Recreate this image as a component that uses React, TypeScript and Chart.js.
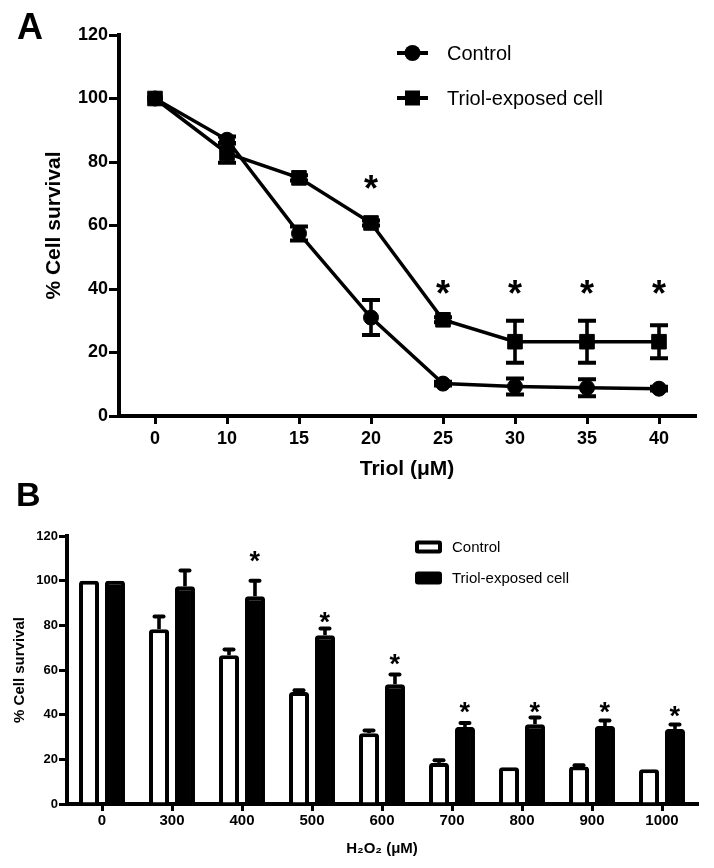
import React, { useEffect, useRef } from 'react';
import { Chart, registerables } from 'chart.js';

Chart.register(...registerables);

const FONT = "'Liberation Sans', Arial, Helvetica, sans-serif";
Chart.defaults.font.family = FONT;
Chart.defaults.color = '#000';

// ---------- Panel A data ----------
const triolDoses = ['0', '10', '15', '20', '25', '30', '35', '40'];
const controlA = [100, 87, 57.5, 31, 10.2, 9.3, 8.9, 8.6];
const controlAErr = [0, 1, 2.2, 5.5, 0.6, 2.5, 2.7, 0.6];
const triolA = [100, 82.8, 75, 60.8, 30.3, 23.4, 23.4, 23.4];
const triolAErr = [0, 3, 0.8, 0.8, 0.8, 6.6, 6.6, 5.2];
const starA: (number | null)[] = [null, null, null, 73.7, 40.6, 40.6, 40.6, 40.6];

// ---------- Panel B data ----------
const h2o2Doses = ['0', '300', '400', '500', '600', '700', '800', '900', '1000'];
const controlB = [100, 78.3, 66.6, 50.1, 31.7, 18.4, 16.4, 16.8, 15.6];
const controlBErr = [0, 5.6, 2.6, 0.8, 1.2, 1.2, 0, 0.6, 0];
const triolB = [100, 97.5, 93, 75.6, 53.6, 34.5, 35.7, 34.9, 33.6];
const triolBErr = [0, 7, 7, 3, 4.4, 1.8, 3, 2.5, 2];
const starB: (number | null)[] = [null, null, 111, 83.7, 64.5, 43, 43, 43, 41.6];

const yTicksStep = 20;
const yMin = 0;
const yMax = 120;

function errorBarPlugin(errs: number[][], both: boolean, cap: number, lw: number, roundCap: boolean) {
  return {
    id: 'errorBars',
    afterDatasetsDraw(chart: any) {
      const ctx = chart.ctx;
      const y = chart.scales.y;
      ctx.save();
      ctx.strokeStyle = '#000';
      chart.data.datasets.forEach((ds: any, i: number) => {
        const meta = chart.getDatasetMeta(i);
        const e = errs[i];
        meta.data.forEach((el: any, j: number) => {
          const err = e[j];
          if (!err) return;
          const v = ds.data[j] as number;
          const x = el.x;
          const top = y.getPixelForValue(v + err);
          const bot = y.getPixelForValue(both ? v - err : v);
          ctx.lineWidth = lw * 0.9;
          ctx.lineCap = 'butt';
          ctx.beginPath();
          ctx.moveTo(x, top);
          ctx.lineTo(x, bot);
          ctx.stroke();
          ctx.lineWidth = lw;
          ctx.lineCap = roundCap ? 'round' : 'butt';
          const half = roundCap ? cap / 2 - lw / 2 : cap / 2;
          ctx.beginPath();
          ctx.moveTo(x - half, top);
          ctx.lineTo(x + half, top);
          if (both) {
            ctx.moveTo(x - half, bot);
            ctx.lineTo(x + half, bot);
          }
          ctx.stroke();
        });
      });
      ctx.restore();
    },
  };
}

function starPlugin(stars: (number | null)[], dsIndex: number, size: number) {
  return {
    id: 'stars',
    afterDatasetsDraw(chart: any) {
      const ctx = chart.ctx;
      ctx.save();
      ctx.font = `bold ${size}px ${FONT}`;
      ctx.fillStyle = '#000';
      ctx.textAlign = 'left';
      ctx.textBaseline = 'alphabetic';
      const m = ctx.measureText('*');
      const meta = chart.getDatasetMeta(dsIndex);
      stars.forEach((s, j) => {
        if (s == null) return;
        const cx = meta.data[j].x;
        const cy = chart.scales.y.getPixelForValue(s);
        const x = cx - (m.actualBoundingBoxRight - m.actualBoundingBoxLeft) / 2;
        const yy = cy + (m.actualBoundingBoxAscent - m.actualBoundingBoxDescent) / 2;
        ctx.fillText('*', x, yy);
      });
      ctx.restore();
    },
  };
}

function letterPlugin(text: string, x: number, baseline: number, size: number) {
  return {
    id: 'panelLetter',
    afterDraw(chart: any) {
      const ctx = chart.ctx;
      ctx.save();
      ctx.font = `bold ${size}px ${FONT}`;
      ctx.fillStyle = '#000';
      ctx.textAlign = 'left';
      ctx.textBaseline = 'alphabetic';
      ctx.fillText(text, x, baseline);
      ctx.restore();
    },
  };
}

function lineLegendPlugin(x0: number, y0: number, gap: number, textX: number, size: number) {
  return {
    id: 'lineLegend',
    afterDraw(chart: any) {
      const ctx = chart.ctx;
      ctx.save();
      chart.data.datasets.forEach((ds: any, i: number) => {
        const y = y0 + i * gap;
        ctx.strokeStyle = '#000';
        ctx.lineWidth = 4;
        ctx.beginPath();
        ctx.moveTo(x0, y);
        ctx.lineTo(x0 + 31, y);
        ctx.stroke();
        ctx.fillStyle = '#000';
        const cx = x0 + 15.5;
        if (ds.pointStyle === 'rect') {
          ctx.fillRect(cx - 7.5, y - 7.5, 15, 15);
        } else {
          ctx.beginPath();
          ctx.arc(cx, y, 8, 0, Math.PI * 2);
          ctx.fill();
        }
        ctx.font = `${size}px ${FONT}`;
        ctx.textAlign = 'left';
        ctx.textBaseline = 'middle';
        ctx.fillText(ds.label, textX, y + 1);
      });
      ctx.restore();
    },
  };
}

function boxLegendPlugin(x0: number, y0: number, gap: number, textX: number, size: number) {
  return {
    id: 'boxLegend',
    afterDraw(chart: any) {
      const ctx = chart.ctx;
      ctx.save();
      chart.data.datasets.forEach((ds: any, i: number) => {
        const y = y0 + i * gap;
        const w = 27;
        const h = 13;
        ctx.fillStyle = ds.borderColor;
        ctx.beginPath();
        (ctx as any).roundRect(x0, y - h / 2, w, h, 3);
        ctx.fill();
        if (ds.backgroundColor !== ds.borderColor) {
          ctx.fillStyle = ds.backgroundColor;
          ctx.fillRect(x0 + 4, y - h / 2 + 4, w - 8, h - 8);
        }
        ctx.fillStyle = '#000';
        ctx.font = `${size}px ${FONT}`;
        ctx.textAlign = 'left';
        ctx.textBaseline = 'middle';
        ctx.fillText(ds.label, textX, y + 1);
      });
      ctx.restore();
    },
  };
}

function configA(): any {
  return {
    type: 'line',
    data: {
      labels: triolDoses,
      datasets: [
        {
          label: 'Control',
          data: controlA,
          borderColor: '#000',
          backgroundColor: '#000',
          borderWidth: 3.5,
          pointStyle: 'circle',
          pointRadius: 7.5,
          pointBorderWidth: 1,
          pointBackgroundColor: '#000',
          pointBorderColor: '#000',
          tension: 0,
        },
        {
          label: 'Triol-exposed cell',
          data: triolA,
          borderColor: '#000',
          backgroundColor: '#000',
          borderWidth: 3.5,
          pointStyle: 'rect',
          pointRadius: 10.3,
          pointBorderWidth: 1,
          pointBackgroundColor: '#000',
          pointBorderColor: '#000',
          tension: 0,
        },
      ],
    },
    options: {
      responsive: false,
      animation: false,
      devicePixelRatio: 1,
      events: [],
      layout: { padding: { top: 35, right: 19, left: 0, bottom: 0 } },
      plugins: { legend: { display: false }, tooltip: { enabled: false } },
      scales: {
        x: {
          type: 'category',
          offset: true,
          grid: { drawOnChartArea: false, drawTicks: true, tickLength: 8, lineWidth: 3, color: '#000', offset: false },
          border: { display: true, width: 4, color: '#000' },
          ticks: { font: { family: FONT, size: 18, weight: 'bold' }, color: '#000', padding: 4, maxRotation: 0, autoSkip: false },
          title: {
            display: true,
            text: 'Triol (μM)',
            font: { family: FONT, size: 21, weight: 'bold' },
            color: '#000',
            padding: { top: 0, bottom: 8 },
          },
          afterFit: (s: any) => {
            s.height = 74;
          },
        },
        y: {
          min: yMin,
          max: yMax,
          ticks: { stepSize: yTicksStep, font: { family: FONT, size: 18, weight: 'bold' }, color: '#000', padding: 1 },
          grid: { drawOnChartArea: false, drawTicks: true, tickLength: 10, lineWidth: 3, color: '#000' },
          border: { display: true, width: 4, color: '#000' },
          title: {
            display: true,
            text: '% Cell survival',
            font: { family: FONT, size: 21, weight: 'bold' },
            color: '#000',
            padding: { top: 42, bottom: 0 },
          },
          afterFit: (s: any) => {
            s.width = 119;
          },
        },
      },
    },
    plugins: [
      errorBarPlugin([controlAErr, triolAErr], true, 18, 4, false),
      starPlugin(starA, 1, 36),
      lineLegendPlugin(397, 53, 45, 447, 20),
      letterPlugin('A', 17, 39, 36),
    ],
  };
}

function configB(): any {
  const barCommon = {
    borderColor: '#000',
    borderWidth: 4,
    borderSkipped: 'start',
    borderRadius: { topLeft: 3, topRight: 3, bottomLeft: 0, bottomRight: 0 },
    categoryPercentage: 0.742,
    barPercentage: 0.77,
  };
  return {
    type: 'bar',
    data: {
      labels: h2o2Doses,
      datasets: [
        { label: 'Control', data: controlB, backgroundColor: '#fff', ...barCommon },
        { label: 'Triol-exposed cell', data: triolB, backgroundColor: '#000', ...barCommon },
      ],
    },
    options: {
      responsive: false,
      animation: false,
      devicePixelRatio: 1,
      events: [],
      layout: { padding: { top: 56, right: 17, left: 0, bottom: 0 } },
      plugins: { legend: { display: false }, tooltip: { enabled: false } },
      scales: {
        x: {
          type: 'category',
          offset: true,
          z: 1,
          grid: { drawOnChartArea: false, drawTicks: true, tickLength: 7, lineWidth: 3, color: '#000', offset: false },
          border: { display: true, width: 4, color: '#000' },
          ticks: { font: { family: FONT, size: 15, weight: 'bold' }, color: '#000', padding: 1, maxRotation: 0, autoSkip: false },
          title: {
            display: true,
            text: 'H₂O₂ (μM)',
            font: { family: FONT, size: 15, weight: 'bold' },
            color: '#000',
            padding: { top: 0, bottom: 10 },
          },
          afterFit: (s: any) => {
            s.height = 64;
          },
        },
        y: {
          min: yMin,
          max: yMax,
          ticks: { stepSize: yTicksStep, font: { family: FONT, size: 13, weight: 'bold' }, color: '#000', padding: 1 },
          grid: { drawOnChartArea: false, drawTicks: true, tickLength: 8, lineWidth: 3, color: '#000' },
          border: { display: true, width: 4, color: '#000' },
          title: {
            display: true,
            text: '% Cell survival',
            font: { family: FONT, size: 15, weight: 'bold' },
            color: '#000',
            padding: { top: 11, bottom: 0 },
          },
          afterFit: (s: any) => {
            s.width = 67;
          },
        },
      },
    },
    plugins: [
      errorBarPlugin([controlBErr, triolBErr], false, 13, 4, true),
      starPlugin(starB, 1, 27),
      boxLegendPlugin(415, 67, 31, 452, 15),
      letterPlugin('B', 16, 26, 34),
    ],
  };
}

export default function App() {
  const refA = useRef<HTMLCanvasElement>(null);
  const refB = useRef<HTMLCanvasElement>(null);
  useEffect(() => {
    const a = new Chart(refA.current as HTMLCanvasElement, configA());
    const b = new Chart(refB.current as HTMLCanvasElement, configB());
    return () => {
      a.destroy();
      b.destroy();
    };
  }, []);
  return (
    <div style={{ position: 'absolute', left: 0, top: 0, width: 714, height: 868, background: '#fff' }}>
      <canvas ref={refA} width={714} height={490} style={{ position: 'absolute', left: 0, top: 0 }} />
      <canvas ref={refB} width={714} height={388} style={{ position: 'absolute', left: 0, top: 480 }} />
    </div>
  );
}
